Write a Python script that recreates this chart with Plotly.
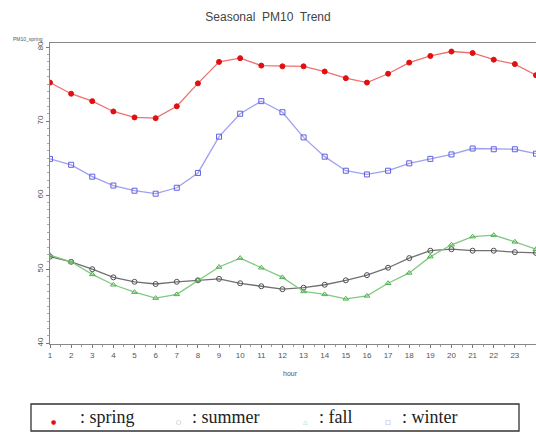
import plotly.graph_objects as go

hours = list(range(1, 25))

spring = [75.2, 73.7, 72.7, 71.3, 70.5, 70.4, 72.0, 75.1, 78.0, 78.5, 77.5, 77.4,
          77.4, 76.7, 75.8, 75.2, 76.4, 77.9, 78.8, 79.4, 79.2, 78.3, 77.7, 76.2]
summer = [51.7, 51.0, 50.0, 48.9, 48.3, 48.0, 48.3, 48.5, 48.7, 48.1, 47.7, 47.3,
          47.5, 47.9, 48.5, 49.2, 50.2, 51.5, 52.5, 52.7, 52.5, 52.5, 52.3, 52.2]
fall = [51.9, 51.0, 49.3, 47.9, 46.9, 46.1, 46.6, 48.5, 50.3, 51.5, 50.2, 48.9,
        47.0, 46.6, 46.0, 46.4, 48.1, 49.5, 51.7, 53.3, 54.4, 54.6, 53.7, 52.7]
winter = [64.9, 64.1, 62.5, 61.3, 60.6, 60.2, 61.0, 63.0, 67.9, 71.0, 72.7, 71.2,
          67.8, 65.2, 63.3, 62.8, 63.3, 64.3, 64.9, 65.5, 66.3, 66.2, 66.2, 65.6]

y_ticks = [40, 50, 60, 70, 80]

series = [
    # name, values, line colour, marker colour, symbol, marker size
    ("spring", spring, "#f07070", "#e01010", "circle", 5),
    ("winter", winter, "#a0a0f0", "#6060e0", "square-open", 5),
    ("summer", summer, "#707070", "#505050", "circle-open", 5),
    ("fall", fall, "#80c880", "#50b050", "triangle-up-open", 5),
]

fig = go.Figure()
for name, vals, lc, mc, sym, ms in series:
    fig.add_trace(go.Scatter(
        x=hours, y=vals, mode="lines+markers", name=name,
        line=dict(color=lc, width=1.3),
        marker=dict(symbol=sym, size=ms, color=mc, line=dict(color=mc, width=1)),
        showlegend=False,
    ))

axis_font = dict(family="Liberation Sans, Arial", size=8, color="#555555")

fig.update_layout(
    width=536, height=432,
    margin=dict(l=50, r=0, t=43, b=88),
    paper_bgcolor="white", plot_bgcolor="white",
    title=dict(text="Seasonal  PM10  Trend", x=0.5, xanchor="center",
               y=1 - 17 / 432, yanchor="middle",
               font=dict(family="Liberation Sans, Arial", size=12, color="#444444")),
)

fig.update_xaxes(
    range=[1, 24], tickmode="array", tickvals=hours, ticktext=[str(h) for h in hours],
    tickfont=axis_font, ticks="outside", ticklen=3, tickcolor="#777777",
    showline=True, linecolor="#888888", linewidth=1.2, mirror=True,
    showgrid=False, zeroline=False,
    minor=dict(dtick=0.5, ticks="outside", ticklen=2, tickcolor="#999999"),
)
fig.update_yaxes(
    range=[39.9, 80.55], tickmode="array", tickvals=y_ticks,
    tickfont=axis_font, tickangle=-90, ticks="outside", ticklen=3, tickcolor="#777777",
    showline=True, linecolor="#888888", linewidth=1.2, mirror=True,
    showgrid=False, zeroline=False,
    minor=dict(dtick=1, ticks="outside", ticklen=2, tickcolor="#aaaaaa"),
)


def px_x(p):
    return (p - 50) / 486


def px_y(p):
    return (344 - p) / 301


# axis labels
fig.add_annotation(text="hour", xref="paper", yref="paper", x=px_x(290), y=px_y(373),
                   xanchor="center", yanchor="middle", showarrow=False,
                   font=dict(family="Liberation Sans, Arial", size=7, color="#555555"))
fig.add_annotation(text="PM10_spring", xref="paper", yref="paper", x=px_x(28), y=px_y(39),
                   xanchor="center", yanchor="middle", showarrow=False,
                   font=dict(family="Liberation Sans, Arial", size=5, color="#555555"))

# key box below the chart
fig.add_shape(type="rect", xref="paper", yref="paper",
              x0=px_x(31), x1=px_x(519), y0=px_y(404), y1=px_y(431),
              line=dict(color="#333333", width=1.3), fillcolor="white")

key_items = [
    ("●", "#e01010", 53, ": spring", 78),
    ("○", "#999999", 178, ": summer", 190),
    ("△", "#90d090", 305, ": fall", 317),
    ("□", "#8080e0", 388, ": winter", 400),
]
serif = "Liberation Serif, DejaVu Serif, serif"
for sym, col, sx, label, lx in key_items:
    fig.add_annotation(text=sym, xref="paper", yref="paper", x=px_x(sx), y=px_y(421),
                       xanchor="center", yanchor="middle", showarrow=False,
                       font=dict(family="DejaVu Sans", size=6, color=col))
    fig.add_annotation(text=label, xref="paper", yref="paper", x=px_x(lx), y=px_y(417),
                       xanchor="left", yanchor="middle", showarrow=False,
                       font=dict(family=serif, size=18, color="#222222"))

fig.write_html("out.html")
